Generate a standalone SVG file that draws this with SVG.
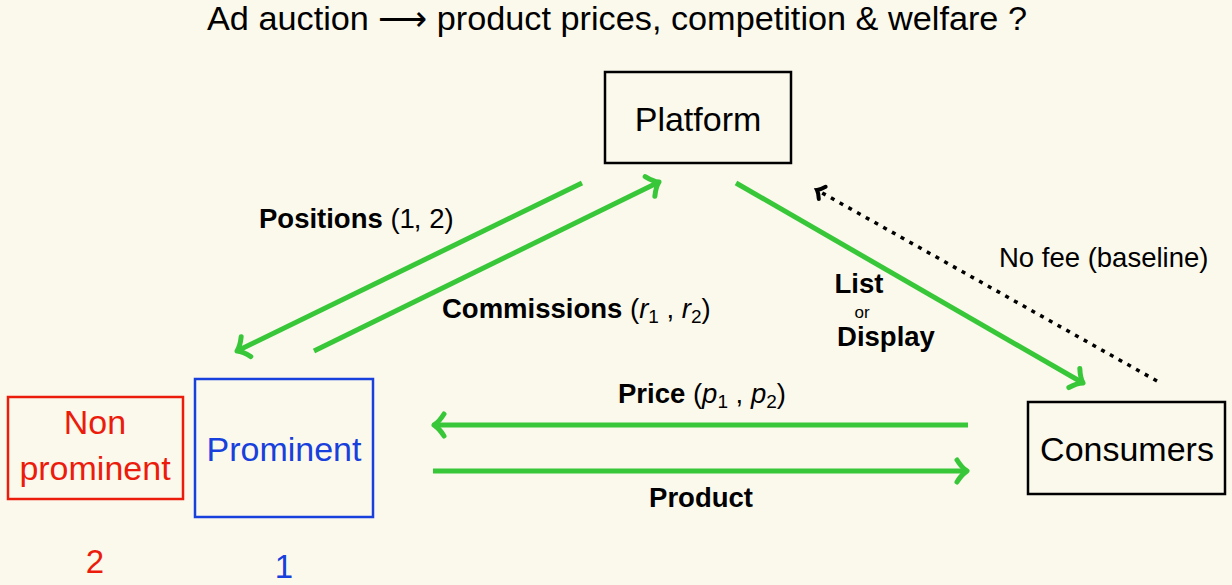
<svg xmlns="http://www.w3.org/2000/svg" width="1232" height="585" viewBox="0 0 1232 585">
<defs>
<marker id="ga" viewBox="-15 -15 30 30" refX="0" refY="0" markerWidth="30" markerHeight="30" markerUnits="userSpaceOnUse" orient="auto">
<path d="M-10,-11 Q-5,-3 0,0 Q-5,3 -10,11" fill="none" stroke="#38c738" stroke-width="5" stroke-linecap="round" stroke-linejoin="round"/>
</marker>
<marker id="ka" viewBox="-12 -12 24 24" refX="0" refY="0" markerWidth="24" markerHeight="24" markerUnits="userSpaceOnUse" orient="auto">
<path d="M-6,-7 Q-3,-2 0,0 Q-3,2 -6,7" fill="none" stroke="#000" stroke-width="4" stroke-linecap="round"/>
</marker>
<style>
text{font-family:"Liberation Sans",Arial,sans-serif;}
.g{stroke:#38c738;stroke-width:5;fill:none;stroke-linecap:butt;marker-end:url(#ga);}
.box{fill:none;stroke-width:2.5;}
.lab{font-size:27.5px;fill:#000;}
.b{font-weight:bold;}
.it{font-style:italic;}
.sub{font-size:19px;}
.node{font-size:34px;text-anchor:middle;}
</style>
</defs>
<rect width="1232" height="585" fill="#fbf9ec"/>
<text x="207" y="30" font-size="33" textLength="820" lengthAdjust="spacingAndGlyphs" fill="#000">Ad auction ⟶ product prices, competition &amp; welfare ?</text>

<g id="platform">
<rect class="box" x="605" y="72" width="186" height="91" stroke="#000"/>
<text class="node" x="698" y="131" fill="#000">Platform</text>
</g>
<g id="prominent">
<rect class="box" x="195" y="379" width="178" height="138" stroke="#1740dc"/>
<text class="node" x="284" y="461" fill="#1740dc">Prominent</text>
<text x="284" y="578" font-size="33" text-anchor="middle" fill="#1740dc">1</text>
</g>
<g id="nonprominent">
<rect class="box" x="8" y="397" width="175" height="102" stroke="#ec1c0c"/>
<text class="node" x="95" y="434" fill="#ec1c0c">Non</text>
<text class="node" x="95" y="480" fill="#ec1c0c">prominent</text>
<text x="95" y="573" font-size="33" text-anchor="middle" fill="#ec1c0c">2</text>
</g>
<g id="consumers">
<rect class="box" x="1028" y="402" width="197" height="92" stroke="#000"/>
<text class="node" x="1127" y="461" fill="#000">Consumers</text>
</g>

<g id="connectors">
<line class="g" x1="582" y1="183" x2="237" y2="351"/>
<line class="g" x1="314" y1="351" x2="659" y2="182"/>
<line class="g" x1="736" y1="183" x2="1083" y2="383"/>
<line class="g" x1="968" y1="425" x2="434" y2="425"/>
<line class="g" x1="433" y1="471" x2="967" y2="471"/>
<line x1="1157" y1="381" x2="817" y2="190" stroke="#000" stroke-width="3.5" stroke-dasharray="4 6" marker-end="url(#ka)"/>
</g>

<g id="labels">
<text class="lab" x="259" y="228"><tspan class="b">Positions</tspan> (1<tspan dx="-1">,</tspan> 2)</text>
<text class="lab" x="442" y="318"><tspan class="b">Commissions</tspan> (<tspan class="it">r</tspan><tspan class="sub" dy="5">1</tspan><tspan dy="-5"> , </tspan><tspan class="it">r</tspan><tspan class="sub" dy="5">2</tspan><tspan dy="-5">)</tspan></text>
<text class="lab" x="618" y="403"><tspan class="b">Price</tspan> (<tspan class="it">p</tspan><tspan class="sub" dy="5">1</tspan><tspan dy="-5"> , </tspan><tspan class="it">p</tspan><tspan class="sub" dy="5">2</tspan><tspan dy="-5">)</tspan></text>
<text class="lab b" x="701" y="507" text-anchor="middle">Product</text>
<text class="lab b" x="859" y="293" text-anchor="middle">List</text>
<text x="862" y="318" font-size="17" text-anchor="middle" fill="#000">or</text>
<text class="lab b" x="886" y="346" text-anchor="middle">Display</text>
<text class="lab" x="999" y="267">No fee (baseline)</text>
</g>
</svg>
